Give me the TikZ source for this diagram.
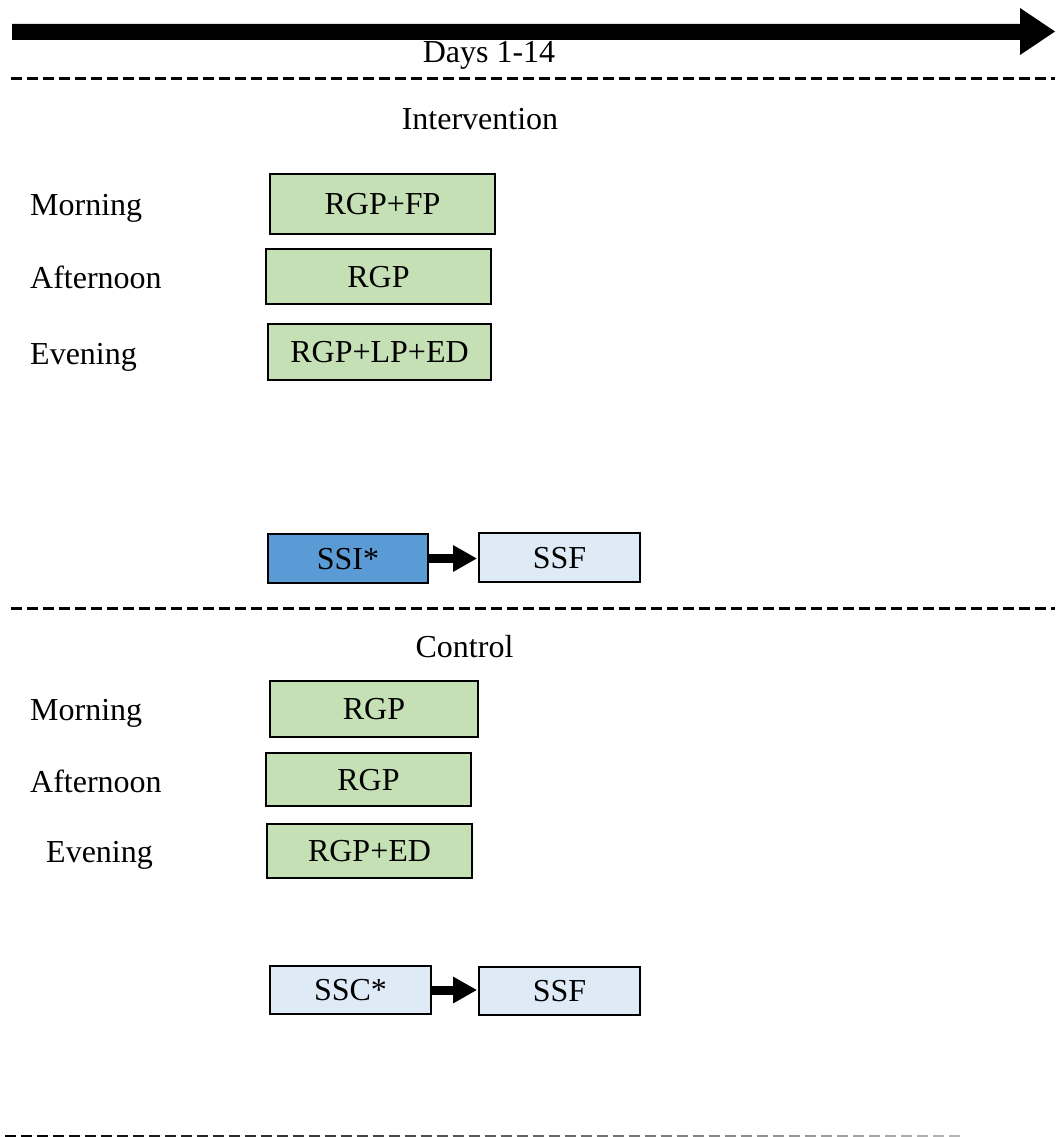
\documentclass[tikz,border=0pt]{standalone}
\usepackage{fontspec}
\setmainfont{Liberation Serif}
\usetikzlibrary{arrows.meta}
\definecolor{phasegreen}{HTML}{C5E0B4}
\definecolor{ssidark}{HTML}{5B9BD5}
\definecolor{sslight}{HTML}{DEEBF7}
\begin{document}
\begin{tikzpicture}[x=1pt,y=-1pt,
  font=\fontsize{32}{38}\selectfont,
  slot/.style={draw=black, line width=1.8pt, fill=phasegreen, inner sep=0pt,
    text height=21pt, text depth=0pt},
  survey/.style={slot, fill=sslight},
  surveyhi/.style={slot, fill=ssidark},
  period/.style={anchor=base west, inner sep=0pt},
  heading/.style={anchor=base, inner sep=0pt},
  separator/.style={line width=3pt, dash pattern=on 11pt off 5pt},
  link/.style={line width=9pt, -{Triangle[length=24pt,width=25pt]}, shorten >=1pt}]
\useasboundingbox (0,0) rectangle (1055,1137);

% timeline
\fill (12,24) -- (1020,24) -- (1020,8) -- (1055,31.5) -- (1020,55) -- (1020,40) -- (12,40) -- cycle;
\node[heading] (days) at (489,63) {Days 1-14};
\draw[separator] (11,79) -- (1055,79);

% intervention arm
\node[heading] (int) at (480,130) {Intervention};
\node[period] (im) at (30,215) {Morning};
\node[period] (ia) at (30,288) {Afternoon};
\node[period] (ie) at (30,364) {Evening};
\node[slot, minimum width=225pt, minimum height=60pt] (imb) at (382.5,204) {RGP+FP};
\node[slot, minimum width=225pt, minimum height=55pt] (iab) at (378.5,276.5) {RGP};
\node[slot, minimum width=223pt, minimum height=56pt] (ieb) at (379.5,352) {RGP+LP+ED};
\node[surveyhi, minimum width=160pt, minimum height=49pt] (ssi) at (348,558.5) {SSI*};
\node[survey, minimum width=161pt, minimum height=49pt] (ssfi) at (559.5,557.5) {SSF};
\draw[link] (ssi.east) -- (ssi.east -| ssfi.west);
\draw[separator] (11,608) -- (1055,608);

% control arm
\node[heading] (ctl) at (464.5,657) {Control};
\node[period] (cm) at (30,720) {Morning};
\node[period] (ca) at (30,792) {Afternoon};
\node[period] (ce) at (46,862) {Evening};
\node[slot, minimum width=208pt, minimum height=56pt] (cmb) at (374,709) {RGP};
\node[slot, minimum width=205pt, minimum height=53pt] (cab) at (368.5,779.5) {RGP};
\node[slot, minimum width=205pt, minimum height=54pt] (ceb) at (369.5,851) {RGP+ED};
\node[survey, minimum width=161pt, minimum height=48pt] (ssc) at (350.5,990) {SSC*};
\node[survey, minimum width=161pt, minimum height=48pt] (ssfc) at (559.5,991) {SSF};
\draw[link] (ssc.east) -- (ssc.east -| ssfc.west);

% closing separator, fading out to the right
\foreach \i in {0,...,59}{
  \pgfmathsetmacro\tone{max(15,100-1.2*\i)}
  \draw[line width=2.5pt, black!\tone] (5+16*\i,1136) -- +(11,0);
}
\end{tikzpicture}
\end{document}
